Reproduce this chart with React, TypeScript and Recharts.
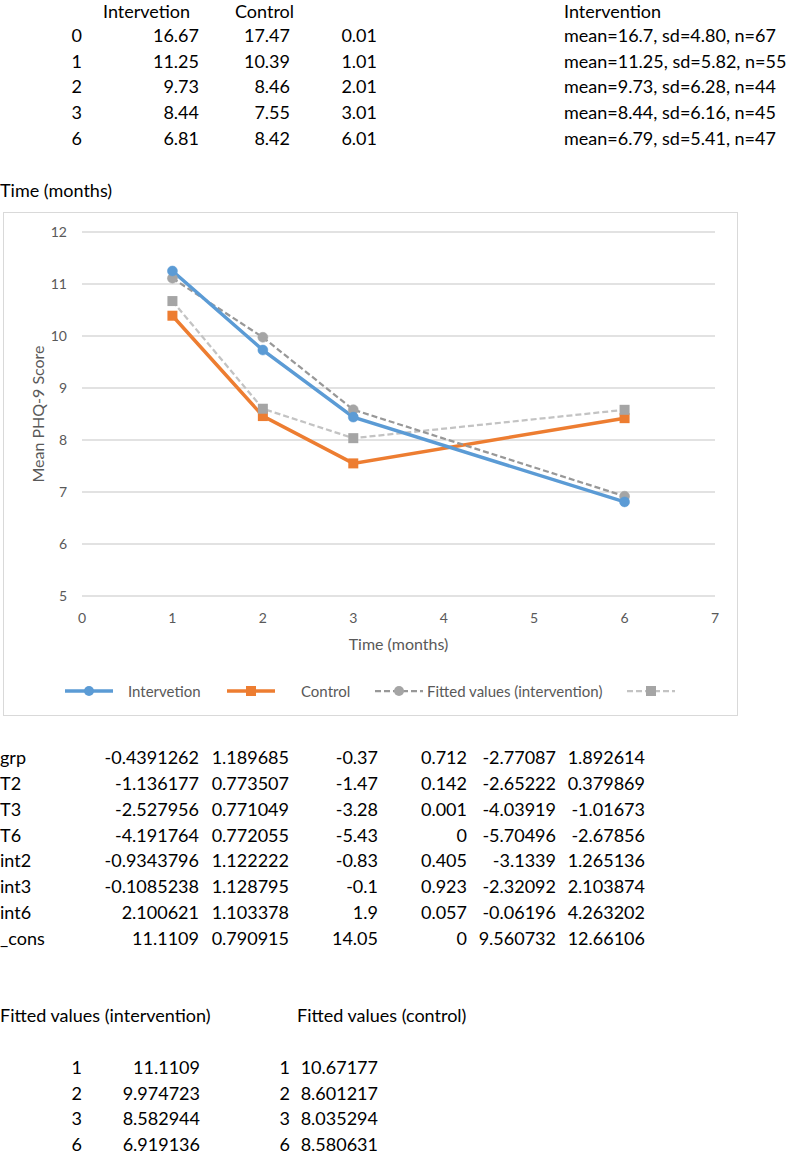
import React from 'react';
import { LineChart, Line, XAxis, YAxis, CartesianGrid, Legend } from 'recharts';

// ---- chart data ----
const months = [1, 2, 3, 6];
const intervention = [11.25, 9.73, 8.44, 6.81];
const control = [10.39, 8.46, 7.55, 8.42];
const fittedIntervention = [11.1109, 9.974723, 8.582944, 6.919136];
const fittedControl = [10.67177, 8.601217, 8.035294, 8.580631];
const xTicks = [0, 1, 2, 3, 4, 5, 6, 7];
const yTicks = [5, 6, 7, 8, 9, 10, 11, 12];

// ---- sheet tables ----
const summaryHeaders = ['Intervetion', 'Control', 'Intervention'];
const summaryTimes = ['0', '1', '2', '3', '6'];
const summaryIntervention = ['16.67', '11.25', '9.73', '8.44', '6.81'];
const summaryControl = ['17.47', '10.39', '8.46', '7.55', '8.42'];
const summaryOffset = ['0.01', '1.01', '2.01', '3.01', '6.01'];
const summaryStats = [
  'mean=16.7, sd=4.80, n=67',
  'mean=11.25, sd=5.82, n=55',
  'mean=9.73, sd=6.28, n=44',
  'mean=8.44, sd=6.16, n=45',
  'mean=6.79, sd=5.41, n=47',
];

const coefNames = ['grp', 'T2', 'T3', 'T6', 'int2', 'int3', 'int6', '_cons'];
const coefB = ['-0.4391262', '-1.136177', '-2.527956', '-4.191764', '-0.9343796', '-0.1085238', '2.100621', '11.1109'];
const coefSE = ['1.189685', '0.773507', '0.771049', '0.772055', '1.122222', '1.128795', '1.103378', '0.790915'];
const coefZ = ['-0.37', '-1.47', '-3.28', '-5.43', '-0.83', '-0.1', '1.9', '14.05'];
const coefP = ['0.712', '0.142', '0.001', '0', '0.405', '0.923', '0.057', '0'];
const coefLo = ['-2.77087', '-2.65222', '-4.03919', '-5.70496', '-3.1339', '-2.32092', '-0.06196', '9.560732'];
const coefHi = ['1.892614', '0.379869', '-1.01673', '-2.67856', '1.265136', '2.103874', '4.263202', '12.66106'];

const fittedTitles = ['Fitted values (intervention)', 'Fitted values (control)'];
const fittedTimes = ['1', '2', '3', '6'];

const chartData = months.map((t, i) => ({
  t,
  intervention: intervention[i],
  control: control[i],
  fittedIntervention: fittedIntervention[i],
  fittedControl: fittedControl[i],
}));

type Series = {
  key: string;
  name: string;
  color: string;
  width: number;
  dash?: string;
  marker: 'circle' | 'square';
  markerColor: string;
};

const series: Series[] = [
  { key: 'intervention', name: 'Intervetion', color: '#5B9BD5', width: 3.5, marker: 'circle', markerColor: '#5B9BD5' },
  { key: 'control', name: 'Control', color: '#ED7D31', width: 3.5, marker: 'square', markerColor: '#ED7D31' },
  { key: 'fittedIntervention', name: 'Fitted values (intervention)', color: '#989898', width: 2.25, dash: '6 3', marker: 'circle', markerColor: '#A5A5A5' },
  { key: 'fittedControl', name: '', color: '#C3C3C3', width: 2.25, dash: '6 3', marker: 'square', markerColor: '#A5A5A5' },
];
const drawOrder = [1, 3, 2, 0];
const legendLefts = [62, 224, 372, 624];
const legendTextGap = [15, 26, 4, 0];

const FONT = 'Lato, "Open Sans", sans-serif';
const CHART_TEXT = '#595959';

const makeDot = (s: Series) => (props: any) => {
  const { cx, cy, index } = props;
  if (cx == null || cy == null) return <g key={`d-${s.key}-${index}`} />;
  if (s.marker === 'circle') {
    return <circle key={`d-${s.key}-${index}`} cx={cx} cy={cy} r={5} fill={s.markerColor} stroke={s.markerColor} strokeWidth={0.5} />;
  }
  return <rect key={`d-${s.key}-${index}`} x={cx - 5} y={cy - 5} width={10} height={10} fill={s.markerColor} />;
};

const LegendIcon = ({ s }: { s: Series }) => (
  <svg width={48} height={16} style={{ display: 'block' }}>
    <line x1={0} y1={8} x2={48} y2={8} stroke={s.color} strokeWidth={s.width} strokeDasharray={s.dash} />
    {s.marker === 'circle' ? (
      <circle cx={24} cy={8} r={5} fill={s.markerColor} />
    ) : (
      <rect x={19} y={3} width={10} height={10} fill={s.markerColor} />
    )}
  </svg>
);

const renderLegend = () => (
  <div style={{ position: 'relative', height: 24, width: 735, fontFamily: FONT, fontSize: 15, color: CHART_TEXT }}>
    {series.map((s, i) => (
      <div
        key={s.key}
        style={{ position: 'absolute', left: legendLefts[i], top: 0, height: 24, display: 'flex', alignItems: 'center', whiteSpace: 'nowrap' }}
      >
        <LegendIcon s={s} />
        {s.name ? <span style={{ marginLeft: legendTextGap[i] }}>{s.name}</span> : null}
      </div>
    ))}
  </div>
);

const XTitle = (props: any) => {
  const vb = props.viewBox || {};
  const x = vb.x + vb.width / 2;
  const y = vb.y + 47;
  return (
    <text x={x} y={y} textAnchor="middle" dominantBaseline="central" fill={CHART_TEXT} fontSize={16} fontFamily={FONT}>
      Time (months)
    </text>
  );
};

const YTitle = (props: any) => {
  const vb = props.viewBox || {};
  const x = vb.x + 34;
  const y = vb.y + vb.height / 2;
  return (
    <text
      x={x}
      y={y}
      transform={`rotate(-90 ${x} ${y})`}
      textAnchor="middle"
      dominantBaseline="central"
      fill={CHART_TEXT}
      fontSize={16}
      fontFamily={FONT}
    >
      Mean PHQ-9 Score
    </text>
  );
};

// spreadsheet row grid (centre of text in row k)
const ROW0 = 9.5;
const PITCH = 25.8;
const HEADER_Y = 11.8;
const rowY = (k: number) => ROW0 + PITCH * k;

const Cell = ({ text, x, y, align = 'left' }: { text: string; x: number; y: number; align?: 'left' | 'right' }) => {
  const style: React.CSSProperties = {
    position: 'absolute',
    top: y - 9.5,
    height: 18,
    lineHeight: '18px',
    whiteSpace: 'nowrap',
    fontFamily: FONT,
    fontSize: 18,
    color: '#000',
  };
  if (align === 'right') {
    style.left = x - 200;
    style.width = 200;
    style.textAlign = 'right';
  } else {
    style.left = x;
  }
  return <div style={style}>{text}</div>;
};

export default function App() {
  return (
    <div style={{ position: 'absolute', left: 0, top: 0, width: 787, height: 1156, background: '#fff', overflow: 'hidden' }}>
      {/* summary table */}
      <Cell text={summaryHeaders[0]} x={103} y={HEADER_Y} />
      <Cell text={summaryHeaders[1]} x={235} y={HEADER_Y} />
      <Cell text={summaryHeaders[2]} x={564} y={HEADER_Y} />
      {summaryTimes.map((t, i) => (
        <React.Fragment key={`s-${i}`}>
          <Cell text={t} x={82} y={rowY(i + 1)} align="right" />
          <Cell text={summaryIntervention[i]} x={199} y={rowY(i + 1)} align="right" />
          <Cell text={summaryControl[i]} x={290} y={rowY(i + 1)} align="right" />
          <Cell text={summaryOffset[i]} x={377} y={rowY(i + 1)} align="right" />
          <Cell text={summaryStats[i]} x={564} y={rowY(i + 1)} />
        </React.Fragment>
      ))}

      <Cell text="Time (months)" x={0} y={rowY(7)} />

      {/* chart */}
      <div style={{ position: 'absolute', left: 3, top: 212, width: 735, height: 504, outline: '1px solid #D9D9D9', outlineOffset: -1, background: '#fff' }}>
        <LineChart
          width={735}
          height={504}
          data={chartData}
          margin={{ top: 20, right: 23, left: 0, bottom: 0 }}
          style={{ fontFamily: FONT }}
        >
          <CartesianGrid horizontal vertical={false} stroke="#D9D9D9" strokeWidth={1.3} />
          <XAxis
            dataKey="t"
            type="number"
            domain={[0, 7]}
            ticks={xTicks}
            interval={0}
            height={96}
            axisLine={false}
            tickLine={false}
            tickSize={0}
            tickMargin={17}
            tick={{ fill: CHART_TEXT, fontSize: 14, fontFamily: FONT }}
            label={{ content: XTitle } as any}
          />
          <YAxis
            type="number"
            domain={[5, 12]}
            ticks={yTicks}
            interval={0}
            width={79}
            axisLine={false}
            tickLine={false}
            tickSize={0}
            tickMargin={15}
            tick={{ fill: CHART_TEXT, fontSize: 14, fontFamily: FONT }}
            label={{ content: YTitle } as any}
          />
          <Legend
            verticalAlign="bottom"
            align="left"
            content={renderLegend}
            wrapperStyle={{ left: 0, top: 467, bottom: 'auto', width: 735, height: 24 }}
          />
          {drawOrder.map((idx) => {
            const s = series[idx];
            return (
              <Line
                key={s.key}
                type="linear"
                dataKey={s.key}
                name={s.name}
                stroke={s.color}
                strokeWidth={s.width}
                strokeDasharray={s.dash}
                dot={makeDot(s)}
                activeDot={false}
                isAnimationActive={false}
              />
            );
          })}
        </LineChart>
      </div>

      {/* regression table */}
      {coefNames.map((n, i) => (
        <React.Fragment key={`c-${i}`}>
          <Cell text={n} x={0} y={rowY(29 + i)} />
          <Cell text={coefB[i]} x={199} y={rowY(29 + i)} align="right" />
          <Cell text={coefSE[i]} x={289} y={rowY(29 + i)} align="right" />
          <Cell text={coefZ[i]} x={378} y={rowY(29 + i)} align="right" />
          <Cell text={coefP[i]} x={467} y={rowY(29 + i)} align="right" />
          <Cell text={coefLo[i]} x={556} y={rowY(29 + i)} align="right" />
          <Cell text={coefHi[i]} x={645} y={rowY(29 + i)} align="right" />
        </React.Fragment>
      ))}

      {/* fitted values */}
      <Cell text={fittedTitles[0]} x={0} y={rowY(39)} />
      <Cell text={fittedTitles[1]} x={297} y={rowY(39)} />
      {fittedTimes.map((t, i) => (
        <React.Fragment key={`f-${i}`}>
          <Cell text={t} x={82} y={rowY(41 + i)} align="right" />
          <Cell text={String(fittedIntervention[i])} x={200} y={rowY(41 + i)} align="right" />
          <Cell text={t} x={290} y={rowY(41 + i)} align="right" />
          <Cell text={String(fittedControl[i])} x={378} y={rowY(41 + i)} align="right" />
        </React.Fragment>
      ))}
    </div>
  );
}
